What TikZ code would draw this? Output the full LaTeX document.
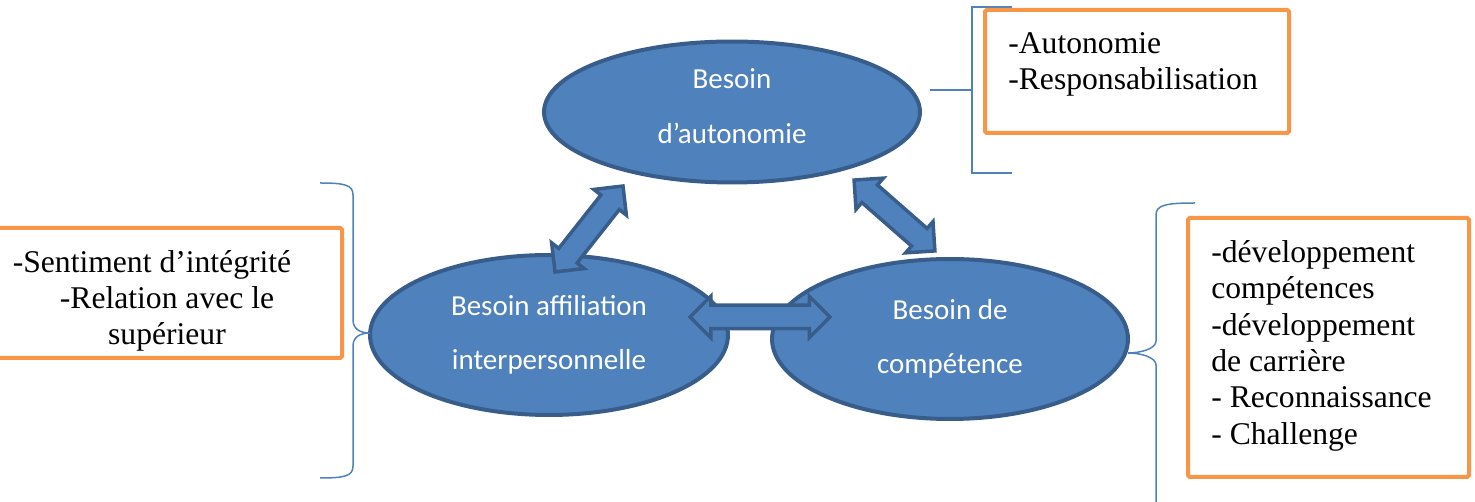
\documentclass[tikz,border=0pt]{standalone}
\usepackage{fontspec}
\setmainfont{Liberation Serif}
\newfontfamily\calibri{Carlito}
\usetikzlibrary{calc, shapes.geometric, shapes.arrows}

\definecolor{besoinfill}{HTML}{4F81BD}
\definecolor{besoinline}{HTML}{385D8A}
\definecolor{cadreline}{HTML}{F79646}

\tikzset{
	besoin/.style = {ellipse, fill=besoinfill, draw=besoinline, line width=0.08cm, inner sep=0,
		text=white, align=center, font=\calibri\fontsize{16.5}{31}\selectfont},
	lien/.style = {double arrow, fill=besoinfill, draw=besoinline, line width=0.07cm, inner sep=0,
		text height=0.2cm, text depth=0.2cm, double arrow head extend=0.18cm},
	cadre/.style = {draw=cadreline, line width=0.08cm, rounded corners=1pt},
	liste/.style = {inner sep=0, font=\fontsize{18}{20.7}\selectfont},
	accolade/.style = {draw=besoinfill, line width=0.03cm},
}

% block arrow between two named points
\newcommand{\lienentre}[3]{%
	\path let \p1 = ($(#3)-(#2)$), \n1 = {atan2(\y1,\x1)}, \n2 = {veclen(\x1,\y1)} in
		node [lien, rotate=\n1, minimum height=\n2] (#1) at ($(#2)!0.5!(#3)$) {};
}

\begin{document}
\begin{tikzpicture}[x=0.02cm, y=-0.02cm]
	\useasboundingbox (0,0) rectangle (1475,502);

	\node [besoin, minimum width=7.52cm, minimum height=2.82cm] (autonomie) at (732,112) {Besoin\\d’autonomie\rule[-0.24cm]{0pt}{0pt}};
	\node [besoin, minimum width=7.16cm, minimum height=3.2cm] (affiliation) at (549,335) {Besoin affiliation\\interpersonnelle};
	\node [besoin, minimum width=7.12cm, minimum height=3.2cm] (competence) at (950,339) {Besoin de\\compétence};

	\coordinate (a1) at (555,272);
	\coordinate (a2) at (623,186);
	\coordinate (b1) at (854,180);
	\coordinate (b2) at (935,251);
	\coordinate (c1) at (690,317);
	\coordinate (c2) at (830,317);

	\lienentre{lienA}{a1}{a2}
	\lienentre{lienB}{b1}{b2}
	\lienentre{lienC}{c1}{c2}

	% brackets
	\coordinate (pointeA) at (930,90);
	\coordinate (pointeB) at (370,333);
	\coordinate (pointeC) at (1128,353);
	\draw [accolade] (pointeA) -- (972,90);
	\draw [accolade] (1012,7) -- (972,7) -- (972,173) -- (1012,173);
	\draw [accolade] (320,183) .. controls (345,183) and (353,185) .. (353,195) -- (353,320)
		.. controls (353,329) and (360,333) .. (pointeB)
		.. controls (360,333) and (353,337) .. (353,346) -- (353,466)
		.. controls (353,476) and (345,478) .. (320,478);
	\draw [accolade] (1195,203) .. controls (1166,203) and (1156,205) .. (1156,215) -- (1156,341)
		.. controls (1156,349) and (1140,353) .. (pointeC)
		.. controls (1140,353) and (1156,357) .. (1156,365) -- (1156,502);

	% boxes
	\draw [cadre] (985,10) rectangle (1289,133);
	\draw [cadre] (-5,228) rectangle (342,358);
	\draw [cadre] (1188,218) rectangle (1469,477);

	\node [liste, anchor=north west, align=left] (listeA) at (1008,32) {-Autonomie\\-Responsabilisation};
	\node [liste, align=center] (listeB) at (167,301) {-Sentiment d’intégrité\hspace*{0.6cm}\\-Relation avec le\\supérieur};
	\node [liste, anchor=north west, align=left] (listeC) at (1211,240) {-développement\\compétences\\-développement\\de carrière\\- Reconnaissance\\- Challenge};
\end{tikzpicture}
\end{document}
